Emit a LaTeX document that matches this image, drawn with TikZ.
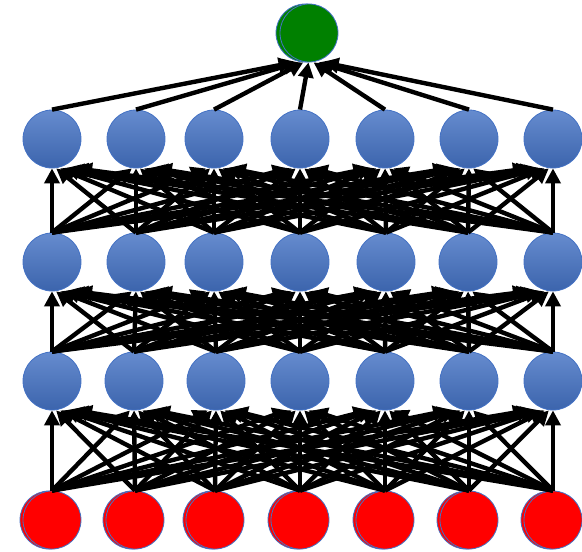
\documentclass[tikz,border=0pt]{standalone}
\usetikzlibrary{arrows.meta,calc}
\definecolor{nblue}{HTML}{4472C4}
\definecolor{ngreen}{HTML}{008000}
\begin{document}
\begin{tikzpicture}[x=1pt,y=-1pt,
 neuron/.style={circle,minimum size=58pt,inner sep=0pt,draw=nblue,line width=0.8pt},
 hid/.style={neuron,top color=nblue!82!white,bottom color=nblue!88!black},
 inp/.style={neuron,fill=red},
 outn/.style={neuron,fill=ngreen},
 ghostred/.style={draw=nblue,fill=red,line width=0.8pt},
 link/.style={line width=4.4pt,-{Triangle[length=15pt,width=15pt]}}]
\useasboundingbox (0,0) rectangle (582,552);
% input layer
\foreach \x [count=\i] in {52,135,215,300,385,469,553} {
  \draw[ghostred] (\x-3,520) circle (29pt);
  \node[inp] (in\i) at (\x,520) {};
}
\foreach \x [count=\i] in {52,134,216,300,385,469,553} \node[hid] (ha\i) at (\x,381) {};
\foreach \x [count=\i] in {52,136,214,300,386,468,553} \node[hid] (hb\i) at (\x,262) {};
\foreach \x [count=\i] in {52,136,214,300,385,469,553} \node[hid] (hc\i) at (\x,139) {};
\draw[draw=nblue,fill=ngreen,line width=0.8pt] (305,33) circle (29pt);
\node[outn] (out) at (309,33) {};
% connections
\foreach \a in {1,...,7} {
  \foreach \b in {1,...,7} {
    \draw[link] (in\a.north) -- ($(ha\b.south)!0.05!(in\a.north |- ha\b.south)$);
    \draw[link] (ha\a.north) -- ($(hb\b.south)!0.05!(ha\a.north |- hb\b.south)$);
    \draw[link] (hb\a.north) -- ($(hc\b.south)!0.05!(hb\a.north |- hc\b.south)$);
  }
  \draw[link] (hc\a.north) -- ($(out.south)!0.06!(hc\a.north |- out.south)$);
}
\end{tikzpicture}
\end{document}
